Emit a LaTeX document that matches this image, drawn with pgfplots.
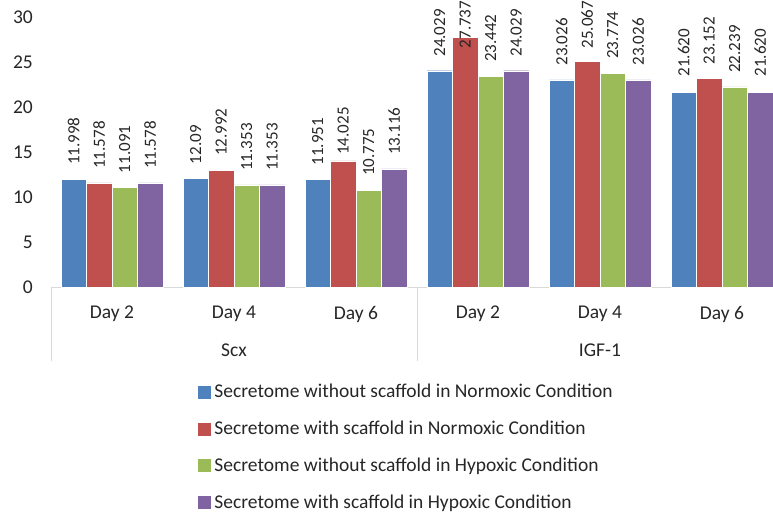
\documentclass[border=0pt]{standalone}
\usepackage{fontspec}
\setmainfont{Carlito}
\usepackage{pgfplots}
\usepackage{pgfplotstable}
\pgfplotsset{compat=1.18}

\definecolor{c1}{HTML}{4F81BD}
\definecolor{c2}{HTML}{C0504D}
\definecolor{c3}{HTML}{9BBB59}
\definecolor{c4}{HTML}{8064A2}
\definecolor{txt}{HTML}{262626}
\definecolor{ln}{HTML}{D9D9D9}
\newcommand{\lab}{\fontsize{19.5}{23}\selectfont}
\newcommand{\val}{\fontsize{17}{20}\selectfont}

% x = category (Scx day 2,4,6 then IGF-1 day 2,4,6), off = label gap in pt
\pgfplotstableread{
x y lab off
0 11.998 11.998 14
1 12.09 12.09 14
2 11.951 11.951 14
3 24.029 24.029 14
4 23.026 23.026 14
5 21.620 21.620 16
}\tblA
\pgfplotstableread{
x y lab off
0 11.578 11.578 14
1 12.992 12.992 14
2 14.025 14.025 6
3 27.737 27.737 -11
4 25.067 25.067 13
5 23.152 23.152 14
}\tblB
\pgfplotstableread{
x y lab off
0 11.091 11.091 14
1 11.353 11.353 14
2 10.775 10.775 14
3 23.442 23.442 14
4 23.774 23.774 14
5 22.239 22.239 14
}\tblC
\pgfplotstableread{
x y lab off
0 11.578 11.578 14
1 11.353 11.353 14
2 13.116 13.116 14
3 24.029 24.029 14
4 23.026 23.026 14
5 21.620 21.620 16
}\tblD

\begin{document}
\begin{tikzpicture}
\useasboundingbox (0,0) rectangle (773pt,512pt);
\begin{axis}[
    at={(51pt,225pt)}, anchor=south west,
    scale only axis,
    width=722pt, height=270pt,
    xmin=-0.5, xmax=5.418,
    ymin=0, ymax=30,
    clip=false,
    axis x line*=bottom, axis y line*=left,
    x axis line style={draw=ln, line width=0.8pt},
    y axis line style={draw=none},
    major tick length=0pt,
    ytick={0,5,...,30},
    xtick={0,...,5},
    xticklabels={Day 2,Day 4,Day 6,Day 2,Day 4,Day 6},
    extra x ticks={-0.5,2.5},
    extra x tick labels={},
    extra x tick style={tick align=outside, major tick length=74pt,
        tick style={draw=ln, line width=0.8pt}},
    /pgf/number format/assume math mode=true,
    ticklabel style={font=\lab, text=txt, inner sep=0pt},
    yticklabel style={anchor=east, xshift=-18pt},
    xticklabel style={anchor=north, yshift=-19pt},
    bar width=25.5pt,
    legend style={at={(rel axis cs:0.2036,-0.36)}, anchor=north west,
        draw=none, fill=none, font=\lab, text=txt, inner sep=0pt,
        row sep=21.7pt, column sep=4pt, nodes={inner sep=0pt}},
    legend cell align=left,
    nodes near coords={\rotatebox{90}{\pgfplotspointmeta}},
    point meta=explicit symbolic,
    visualization depends on={\thisrow{off} \as \myoff},
    every node near coord/.append style={font=\val, text=txt,
        anchor=south, inner sep=0pt, yshift=\myoff pt},
]
\addplot[ybar, bar shift=-38.25pt, fill=c1, draw=white, line width=0.3pt,
    every node near coord/.append style={xshift=-38.25pt},
    legend image code/.code={\fill[c1] (0pt,-6pt) rectangle (12pt,6pt);}]
    table[x=x, y=y, meta=lab] {\tblA};
\addplot[ybar, bar shift=-12.75pt, fill=c2, draw=white, line width=0.3pt,
    every node near coord/.append style={xshift=-12.75pt},
    legend image code/.code={\fill[c2] (0pt,-6pt) rectangle (12pt,6pt);}]
    table[x=x, y=y, meta=lab] {\tblB};
\addplot[ybar, bar shift=12.75pt, fill=c3, draw=white, line width=0.3pt,
    every node near coord/.append style={xshift=12.75pt},
    legend image code/.code={\fill[c3] (0pt,-6pt) rectangle (12pt,6pt);}]
    table[x=x, y=y, meta=lab] {\tblC};
\addplot[ybar, bar shift=38.25pt, fill=c4, draw=white, line width=0.3pt,
    every node near coord/.append style={xshift=38.25pt},
    legend image code/.code={\fill[c4] (0pt,-6pt) rectangle (12pt,6pt);}]
    table[x=x, y=y, meta=lab] {\tblD};
\legend{Secretome without scaffold in Normoxic Condition,
    Secretome with scaffold in Normoxic Condition,
    Secretome without scaffold in Hypoxic Condition,
    Secretome with scaffold in Hypoxic Condition}
\node[font=\lab, text=txt] at (axis cs:1,0) [yshift=-63pt] {Scx};
\node[font=\lab, text=txt] at (axis cs:4,0) [yshift=-63pt] {IGF-1};
\end{axis}
\end{tikzpicture}
\end{document}
